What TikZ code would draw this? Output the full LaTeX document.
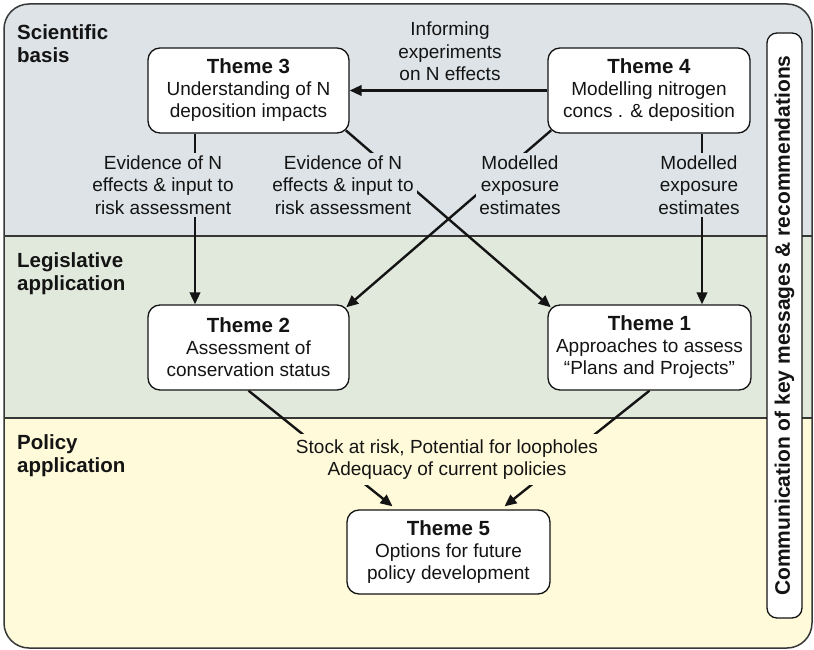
\documentclass[tikz,border=0pt]{standalone}
\usepackage{fontspec}
\setmainfont{Liberation Sans}
\usetikzlibrary{arrows.meta,calc}
\definecolor{bandsci}{RGB}{221,227,230}
\definecolor{bandleg}{RGB}{225,233,221}
\definecolor{bandpol}{RGB}{255,250,218}
\definecolor{ink}{RGB}{20,20,20}
\pgfdeclarelayer{bands}
\pgfdeclarelayer{conn}
\pgfsetlayers{bands,conn,main}
\newcommand{\hd}[1]{{\fontsize{20.5}{22}\selectfont\bfseries #1}}
\begin{document}
\begin{tikzpicture}[x=1pt,y=-1pt,
  theme/.style={draw=ink, line width=1.3pt, fill=white, rounded corners=12pt,
    minimum width=201pt, minimum height=85pt, align=center, inner sep=2pt,
    text=ink, font=\fontsize{19}{22}\selectfont},
  lbl/.style={align=center, inner sep=3pt, text=ink, font=\fontsize{19}{22.5}\selectfont},
  sect/.style={align=left, anchor=west, inner sep=0pt, text=ink,
    font=\fontsize{20.5}{23}\selectfont\bfseries},
  conn/.style={draw=ink, line width=2.4pt},
  arr/.style={conn, -{Triangle[length=12pt,width=10.5pt]}},
]
\useasboundingbox (0,0) rectangle (814,650);

% theme boxes
\node[theme] (t3) at (248.5,90.5) {\hd{Theme 3}\\Understanding of N\\deposition impacts};
\node[theme, minimum width=202pt] (t4) at (649,90.5) {\hd{Theme 4}\\Modelling nitrogen\\concs . \& deposition};
\node[theme] (t2) at (248.5,347.5) {\hd{Theme 2}\\Assessment of\\conservation status};
\node[theme, minimum width=203pt] (t1) at (649.5,347.5) {\hd{Theme 1}\\Approaches to assess\\“Plans and Projects”};
\node[theme, minimum width=203pt, minimum height=84pt] (t5) at (448.5,552) {\hd{Theme 5}\\Options for future\\policy development};

% vertical communication box
\node[draw=ink, line width=1.3pt, fill=white, rounded corners=10pt, rotate=90,
  minimum width=585pt, minimum height=35pt, inner sep=0pt, text=ink,
  font=\fontsize{21}{24}\selectfont\bfseries] (comm) at (784.5,325.5)
  {Communication of key messages \& recommendations};

% section labels
\node[sect] (s1) at (17,43.5) {Scientific\\basis};
\node[sect] (s2) at (17,273.5) {Legislative\\application};
\node[sect] (s3) at (17,455.5) {Policy\\application};

% connector labels
\node[lbl] (inf) at (450,51.5) {Informing\\experiments\\on N effects};
\node[lbl, fill=bandsci] (ev1) at (163,185) {Evidence of N\\effects \& input to\\risk assessment};
\node[lbl, fill=bandsci] (ev2) at (343,185) {Evidence of N\\effects \& input to\\risk assessment};
\node[lbl, fill=bandsci] (me1) at (520,185) {Modelled\\exposure\\estimates};
\node[lbl, fill=bandsci] (me2) at (699,185) {Modelled\\exposure\\estimates};
\node[lbl, fill=bandpol, inner sep=5pt] (stk) at (447,459.5) {Stock at risk, Potential for loopholes\\Adequacy of current policies};

\coordinate (v1) at (195,0);
\coordinate (v2) at (702,0);

% connectors
\begin{pgfonlayer}{conn}
\draw[arr] (t4.west) -- (t3.east);
\draw[arr] (t3.south -| v1) -- (t2.north -| v1);
\draw[arr] (t4.south -| v2) -- (t1.north -| v2);
\draw[arr, shorten <=-5pt, shorten >=-4.5pt] (t3.south east) -- (t1.north west);
\draw[arr, shorten <=-5pt, shorten >=-4.5pt] (t4.south west) -- (t2.north east);
\draw[arr] (t2.south) -- ($(t5.north)+(-56,-3)$);
\draw[arr] (t1.south) -- ($(t5.north)+(56,-3)$);
\end{pgfonlayer}

% bands and frame
\begin{pgfonlayer}{bands}
\begin{scope}
\clip[rounded corners=25pt] (4,4) rectangle (812,648);
\fill[bandsci] (0,0) rectangle (814,236);
\fill[bandleg] (0,236) rectangle (814,418);
\fill[bandpol] (0,418) rectangle (814,650);
\draw[line width=1.2pt, draw=ink!85] (0,236) -- (814,236) (0,418) -- (814,418);
\end{scope}
\draw[rounded corners=25pt, line width=1.5pt, draw=ink!85] (4,4) rectangle (812,648);
\end{pgfonlayer}
\end{tikzpicture}
\end{document}
